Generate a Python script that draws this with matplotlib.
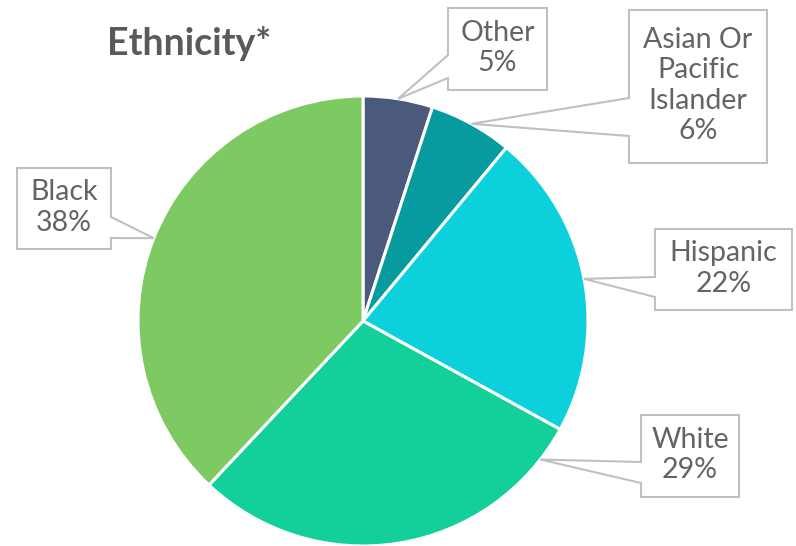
import numpy as np
import matplotlib
matplotlib.use("Agg")
import matplotlib.pyplot as plt
from matplotlib.patches import Polygon

# Data
categories = ["Other", "Asian Or\nPacific\nIslander", "Hispanic", "White", "Black"]
shares = [5, 6, 22, 29, 38]
colors = ["#4b5a7c", "#079a9f", "#0cd0dc", "#13cf99", "#7dc962"]

W, H = 796, 546
fig = plt.figure(figsize=(W / 100, H / 100), dpi=100)
ax = fig.add_axes([0, 0, 1, 1])

# Pie geometry in pixel units (y measured upward)
cx, cy, r = 363, H - 321, 225
wedges, _ = ax.pie(shares, colors=colors, startangle=90, counterclock=False,
                   center=(cx, cy), radius=r, frame=True,
                   wedgeprops=dict(edgecolor="white", linewidth=2.2))

ax.set_xlim(0, W)
ax.set_ylim(0, H)
ax.set_aspect("auto")
ax.axis("off")

# Callout boxes: (left, top, right, bottom) in pixels from top-left,
# pointer side, pointer base (y top, y bottom), angle of pointer tip on rim
callouts = [
    ((448, 8, 547, 90), "left", (55, 78), None),
    ((629, 10, 767, 163), "left", (98, 136), None),
    ((655, 229, 792, 310), "left", (277, 297), None),
    ((641, 415, 739, 497), "left", (462, 483), -38.0),
    ((17, 168, 111, 249), "right", (217, 238), None),
]

edge_gray = "#c0c0c0"
text_gray = "#646464"

angle = 90.0
total = float(sum(shares))
for val, label, (box, side, base, tip_ang) in zip(shares, categories, callouts):
    span = 360.0 * val / total
    mid = angle - span / 2
    angle -= span
    a = np.deg2rad(tip_ang if tip_ang is not None else mid)
    tx, ty = cx + r * np.cos(a), cy + r * np.sin(a)

    x0, t, x1, b = box
    yt, yb = H - t, H - b
    p1, p2 = H - base[0], H - base[1]
    if side == "left":
        verts = [(x0, yt), (x1, yt), (x1, yb), (x0, yb),
                 (x0, p2), (tx, ty), (x0, p1)]
    else:
        verts = [(x0, yt), (x1, yt), (x1, p1), (tx, ty), (x1, p2),
                 (x1, yb), (x0, yb)]
    ax.add_patch(Polygon(verts, closed=True, facecolor="white",
                         edgecolor=edge_gray, linewidth=1.5, zorder=5))
    ax.text((x0 + x1) / 2, (yt + yb) / 2 + 1, f"{label}\n{val}%",
            ha="center", va="center", fontsize=20.5, color=text_gray,
            family="Lato", linespacing=1.22, zorder=6)

ax.text(189, H - 55, "Ethnicity*", ha="center", va="baseline",
        fontsize=27, fontweight="bold", color="#5a5a5a", family="Lato")

fig.savefig("out.png", dpi=100)
